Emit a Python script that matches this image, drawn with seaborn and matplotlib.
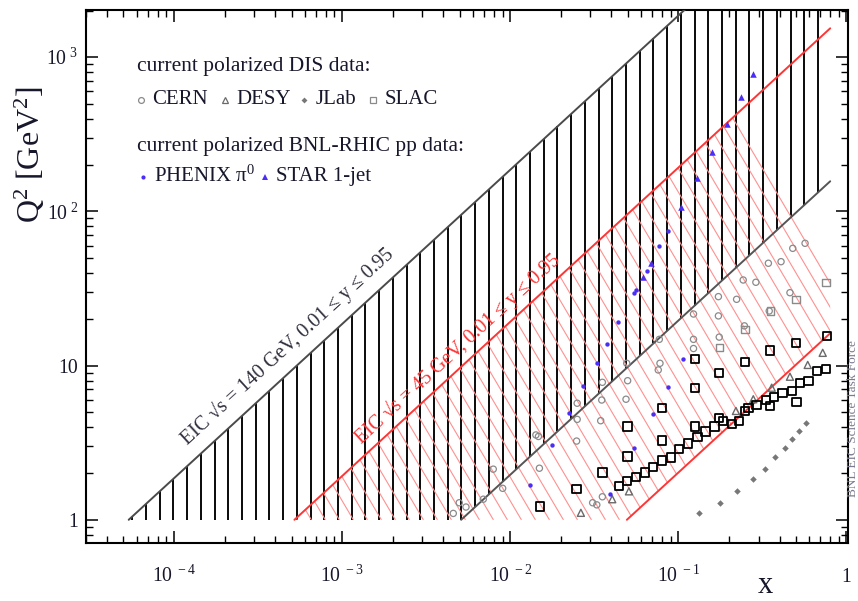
import numpy as np
import pandas as pd
import matplotlib
matplotlib.use("Agg")
import matplotlib.pyplot as plt
import seaborn as sns
from matplotlib.patches import Polygon
from matplotlib.collections import LineCollection

# ---- EIC kinematic reach: Q^2 = x * y * s ----
sqrt_s_high = 140.0
sqrt_s_low = 45.0
y_min, y_max = 0.01, 0.95
x_end = 0.8
q2_floor = 1.0

# ---- current polarized DIS data ----
cern_x = [0.567, 0.479, 0.408, 0.343, 0.289, 0.243, 0.222, 0.173, 0.461, 0.347,
          0.247, 0.173, 0.123, 0.175, 0.123, 0.123, 0.0770, 0.0777, 0.0759, 0.0493,
          0.0499, 0.0353, 0.0350, 0.0488, 0.0250, 0.0250, 0.0345, 0.0248, 0.0142, 0.0147,
          0.0149, 0.00901, 0.00792, 0.00691, 0.00545, 0.00497, 0.00458, 0.0309, 0.0327, 0.0353]
cern_q2 = [62.1, 57.6, 47.2, 46.1, 34.7, 35.9, 26.9, 28.0, 29.7, 22.6,
           18.1, 21.0, 21.6, 15.3, 14.8, 12.9, 14.8, 10.35, 9.37, 10.35,
           7.98, 7.79, 5.98, 6.05, 5.70, 4.48, 4.39, 3.24, 3.55, 3.47,
           2.16, 1.60, 2.13, 1.36, 1.21, 1.29, 1.10, 1.29, 1.25, 1.41]

desy_x = [0.722, 0.588, 0.461, 0.359, 0.279, 0.220, 0.0508, 0.0404, 0.0263]
desy_q2 = [12.1, 10.1, 8.47, 7.19, 6.05, 5.08, 1.53, 1.36, 1.11]

jlab_x = [0.574, 0.524, 0.476, 0.431, 0.376, 0.327, 0.277, 0.224, 0.177, 0.133]
jlab_q2 = [4.26, 3.77, 3.33, 2.91, 2.54, 2.13, 1.85, 1.54, 1.29, 1.10]

slac_x = [0.763, 0.501, 0.351, 0.249, 0.175, 0.126, 0.126, 0.0796, 0.126, 0.0796,
          0.0497, 0.0497, 0.0353, 0.0248, 0.0150, 0.505, 0.351,
          0.752, 0.665, 0.593, 0.529, 0.472, 0.417, 0.370, 0.331, 0.292, 0.261,
          0.249, 0.230, 0.208, 0.184, 0.175, 0.164, 0.145, 0.130, 0.114, 0.101,
          0.0900, 0.0799, 0.0709, 0.0633, 0.0559, 0.0493, 0.0443]
slac_q2 = [15.6, 13.95, 12.5, 10.6, 8.99, 10.99, 7.19, 5.33, 4.02, 3.26,
           4.02, 2.57, 2.03, 1.59, 1.22, 5.78, 5.47,
           9.46, 9.19, 7.98, 7.68, 6.84, 6.61, 6.26, 5.98, 5.55, 5.29,
           5.10, 4.39, 4.18, 4.37, 4.59, 4.02, 3.73, 3.43, 3.13, 2.87,
           2.54, 2.42, 2.21, 2.03, 1.90, 1.78, 1.66]

slac_hq_x = [0.755, 0.501, 0.354, 0.249, 0.175]
slac_hq_q2 = [34.5, 26.9, 22.6, 17.2, 13.1]

# ---- current polarized BNL-RHIC pp data ----
phenix_x = [0.0864, 0.0770, 0.0648, 0.0557, 0.0544, 0.0439, 0.0375, 0.0327, 0.0272,
            0.0224, 0.0176, 0.0131, 0.0392, 0.0547, 0.0703, 0.0864, 0.106]
phenix_q2 = [74.6, 59.7, 41.3, 30.9, 29.7, 19.2, 13.8, 10.35, 7.37,
             4.95, 3.06, 1.68, 1.47, 2.91, 4.83, 7.23, 10.99]

star_x = [0.279, 0.236, 0.194, 0.158, 0.1285, 0.103, 0.0687, 0.0618]
star_q2 = [778, 550, 369, 244, 164, 106, 46.1, 37.4]

x_ticks = [1e-4, 1e-3, 1e-2, 1e-1, 1.0]
x_tick_labels = [r"$\mathregular{10^{\ -4}}$", r"$\mathregular{10^{\ -3}}$",
                 r"$\mathregular{10^{\ -2}}$", r"$\mathregular{10^{\ -1}}$", "1"]
y_ticks = [1.0, 10.0, 100.0, 1000.0]
y_tick_labels = ["1", "10", r"$\mathregular{10^{\ 2}}$", r"$\mathregular{10^{\ 3}}$"]

# ---- style ----
sns.set_theme(style="ticks")
plt.rcParams.update({
    "font.family": ["Liberation Serif", "DejaVu Serif"],
    "mathtext.fontset": "custom",
    "mathtext.rm": "Liberation Serif",
    "mathtext.it": "Liberation Serif:italic",
    "mathtext.bf": "Liberation Serif:bold",
    "axes.linewidth": 1.5,
    "axes.edgecolor": "black",
})

TXT = "#17172b"
GREY = "#8a8a8a"
BLUE = "#4b2ef5"
RED = "#ff3535"

fig = plt.figure(figsize=(8.58, 6.01), dpi=100)
ax = fig.add_axes([86 / 858, 58 / 601, 762 / 858, 533 / 601])
ax.set_xscale("log")
ax.set_yscale("log")
ax.set_xlim(10 ** -4.524, 10 ** 0.009)
ax.set_ylim(10 ** -0.1505, 10 ** 3.306)

s_high = sqrt_s_high ** 2
s_low = sqrt_s_low ** 2

# ---- 140 GeV band: vertical hatching ----
xh_lo = q2_floor / (y_max * s_high)
hatch_x = 10 ** np.arange(np.log10(xh_lo) + 0.021, np.log10(x_end), 0.0816)
hatch_lo = np.maximum(q2_floor, y_min * s_high * hatch_x)
hatch_hi = y_max * s_high * hatch_x
ax.vlines(hatch_x, hatch_lo, hatch_hi, colors="black", linewidth=1.35, zorder=1)

# ---- 45 GeV band: slanted hatching clipped to the band ----
xl_a = q2_floor / (y_max * s_low)
xl_b = q2_floor / (y_min * s_low)
band = Polygon([(xl_a, q2_floor), (x_end, y_max * s_low * x_end),
                (x_end, y_min * s_low * x_end), (xl_b, q2_floor)],
               closed=True, transform=ax.transData, facecolor="none", edgecolor="none")
ax.add_patch(band)
k = 1.85
lq = np.array([-0.3, 3.6])
segs = []
for a in np.arange(-3.6, 0.8, 0.0833):
    lx = a - lq / k
    segs.append(list(zip(10 ** lx, 10 ** lq)))
lc = LineCollection(segs, colors="#ff9090", linewidths=0.8, zorder=2)
ax.add_collection(lc)
lc.set_clip_path(band)

# ---- band edges ----
def edge(s, y, x0, x1, color):
    xs = np.array([x0, x1])
    sns.lineplot(x=xs, y=y * s * xs, ax=ax, color=color, linewidth=1.4, zorder=3,
                 estimator=None, sort=False)

edge(s_high, y_max, xh_lo, x_end, "#4a4a4a")
edge(s_high, y_min, q2_floor / (y_min * s_high), x_end, "#555555")
edge(s_low, y_max, xl_a, x_end, RED)
edge(s_low, y_min, xl_b, x_end, RED)

# ---- data points ----
sns.scatterplot(x=cern_x, y=cern_q2, ax=ax, marker="o", s=20, facecolor="none",
                edgecolor=GREY, linewidth=0.9, zorder=5)
sns.scatterplot(x=slac_hq_x, y=slac_hq_q2, ax=ax, marker="s", s=28, facecolor="none",
                edgecolor=GREY, linewidth=1.0, zorder=5)
sns.scatterplot(x=desy_x, y=desy_q2, ax=ax, marker="^", s=26, facecolor="none",
                edgecolor="#6a6a6a", linewidth=1.0, zorder=5)
sns.scatterplot(x=jlab_x, y=jlab_q2, ax=ax, marker="D", s=11, color="#777777",
                linewidth=0, zorder=5)
sns.scatterplot(x=slac_x, y=slac_q2, ax=ax, marker="s", s=36, facecolor="none",
                edgecolor="black", linewidth=1.3, zorder=6)
sns.scatterplot(x=phenix_x, y=phenix_q2, ax=ax, marker="o", s=10, color=BLUE,
                linewidth=0, zorder=7)
sns.scatterplot(x=star_x, y=star_q2, ax=ax, marker="^", s=22, color=BLUE,
                linewidth=0, zorder=7)

ax.set_xlim(10 ** -4.524, 10 ** 0.009)
ax.set_ylim(10 ** -0.1505, 10 ** 3.306)

# ---- axes, ticks ----
ax.set_xticks(x_ticks)
ax.set_xticklabels(x_tick_labels)
ax.set_yticks(y_ticks)
ax.set_yticklabels(y_tick_labels)
ax.xaxis.set_minor_locator(matplotlib.ticker.LogLocator(base=10, subs=np.arange(2, 10), numticks=20))
ax.yaxis.set_minor_locator(matplotlib.ticker.LogLocator(base=10, subs=np.arange(2, 10), numticks=20))
ax.xaxis.set_minor_formatter(matplotlib.ticker.NullFormatter())
ax.yaxis.set_minor_formatter(matplotlib.ticker.NullFormatter())
ax.tick_params(which="both", direction="in", top=True, right=True, color="black",
               labelcolor=TXT, labelsize=14.2)
ax.tick_params(which="major", length=8.5, width=1.1)
ax.tick_params(which="minor", length=5.0, width=1.0)
ax.tick_params(axis="x", pad=28)
ax.tick_params(axis="y", pad=5.8)
for lbl in ax.get_xticklabels():
    lbl.set_va("baseline")
ax.set_xlabel("")
ax.set_ylabel("")

fig.text(30 / 858, 1 - 155 / 601, r"Q$^{2}$ [GeV$^{2}$]", rotation=90, ha="center",
         va="center", fontsize=23, color=TXT)
fig.text(765 / 858, 1 / 601, "x", ha="center", va="bottom", fontsize=22, color=TXT)
fig.text(852.5 / 858, 1 - 419 / 601, "BNL EIC Science Task Force", rotation=90,
         ha="center", va="center", fontsize=9.5, color="#7a7a90")

# ---- band labels, rotated along the edges ----
def edge_angle(s, y):
    p1 = ax.transData.transform((1e-3, y * s * 1e-3))
    p2 = ax.transData.transform((1e-2, y * s * 1e-2))
    return np.degrees(np.arctan2(p2[1] - p1[1], p2[0] - p1[0]))

ax.text(4.7e-4, 13.3, f"EIC √s = {sqrt_s_high:g} GeV, {y_min:g} ≤ y ≤ {y_max:g}",
        rotation=edge_angle(s_high, y_max), rotation_mode="anchor", ha="center",
        va="center", fontsize=14.5, color="#30303e", zorder=8)
ax.text(4.86e-3, 12.8, f"EIC √s = {sqrt_s_low:g} GeV, {y_min:g} ≤ y ≤ {y_max:g}",
        rotation=edge_angle(s_low, y_max), rotation_mode="anchor", ha="center",
        va="center", fontsize=14.5, color=RED, zorder=8)

# ---- key ----
def ax_frac(px, py):
    return (px - 86) / 762, (543 - py) / 533

hdr = dict(fontsize=15.5, color=TXT, va="center", ha="left", transform=ax.transAxes)
ent = dict(fontsize=15.0, color=TXT, va="center", ha="left", transform=ax.transAxes)
ax.text(*ax_frac(136.7, 66.7), "current polarized DIS data:", **hdr)
ax.text(*ax_frac(136.7, 146.7), "current polarized BNL-RHIC pp data:", **hdr)

key = [
    (140.7, 100, "CERN", dict(marker="o", ms=4.2, mfc="none", mec=GREY, mew=0.9)),
    (225.3, 100, "DESY", dict(marker="^", ms=4.2, mfc="none", mec="#6a6a6a", mew=0.9)),
    (304.3, 100, "JLab", dict(marker="D", ms=3.0, mfc="#777777", mec="#777777", mew=0)),
    (373.3, 100, "SLAC", dict(marker="s", ms=4.0, mfc="none", mec=GREY, mew=0.9)),
    (142.7, 176.7, "PHENIX π$^{0}$", dict(marker="o", ms=3.0, mfc=BLUE, mec=BLUE, mew=0)),
    (265.0, 176.7, "STAR 1-jet", dict(marker="^", ms=4.0, mfc=BLUE, mec=BLUE, mew=0)),
]
for px, py, name, mk in key:
    fx, fy = ax_frac(px, py)
    ax.plot([fx], [fy], transform=ax.transAxes, ls="none", clip_on=False, **mk)
    ax.text(fx + 11.5 / 762, fy, name, **ent)

fig.savefig("out.png", dpi=100)
